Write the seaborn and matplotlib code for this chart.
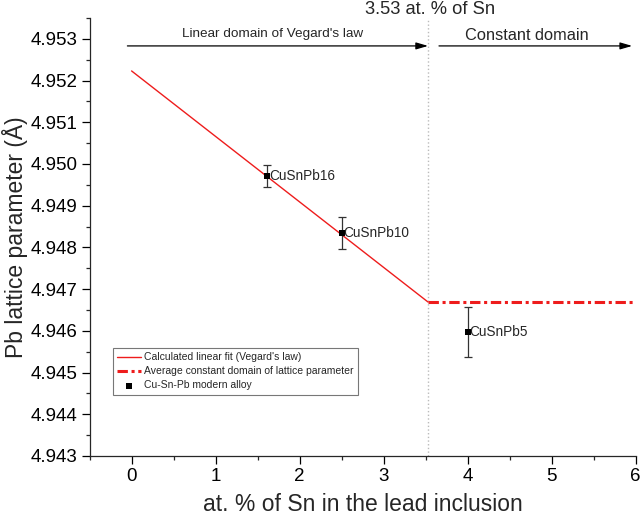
import matplotlib
matplotlib.use("Agg")
import matplotlib.pyplot as plt
import matplotlib.ticker as mticker
import seaborn as sns
import pandas as pd

# Vegard's law fit and constant domain
fit_x = [0.0, 3.53]
fit_y = [4.95223, 4.94669]
const_x = [3.53, 6.0]
const_y = [4.94669, 4.94669]

# measured alloys
alloy_names = ["CuSnPb16", "CuSnPb10", "CuSnPb5"]
alloy_sn = [1.61, 2.50, 4.00]
alloy_a = [4.94971, 4.94834, 4.94598]
alloy_err = [0.00026, 0.00038, 0.00060]

sn_limit = 3.53

sns.set_theme(style="ticks")
plt.rcParams["font.family"] = ["Liberation Sans", "DejaVu Sans"]
plt.rcParams["axes.linewidth"] = 0.9

df_alloy = pd.DataFrame({"sn": alloy_sn, "a": alloy_a, "err": alloy_err, "name": alloy_names})
df_fit = pd.DataFrame({"sn": fit_x, "a": fit_y})
df_const = pd.DataFrame({"sn": const_x, "a": const_y})

fig = plt.figure(figsize=(6.4, 5.21), dpi=100)
ax = fig.add_axes([0.140, 0.1248, 0.853, 0.8407])

red = "#ee1c1c"
sns.lineplot(data=df_fit, x="sn", y="a", ax=ax, color=red, lw=1.0,
             label="Calculated linear fit (Vegard's law)")
sns.lineplot(data=df_const, x="sn", y="a", ax=ax, color=red, lw=2.2,
             linestyle=(0, (3.4, 1.2, 1.0, 1.2)),
             label="Average constant domain of lattice parameter")
ax.errorbar(df_alloy["sn"], df_alloy["a"], yerr=df_alloy["err"], fmt="none",
            ecolor="#333333", elinewidth=0.9, capsize=3, capthick=0.9, zorder=3)
sns.scatterplot(data=df_alloy, x="sn", y="a", ax=ax, marker="s", color="black",
                s=16, linewidth=0, zorder=4, label="Cu-Sn-Pb modern alloy")

for _, row in df_alloy.iterrows():
    ax.annotate(row["name"], xy=(row["sn"], row["a"]), xytext=(1.5, 0),
                textcoords="offset points", ha="left", va="center", fontsize=9.8)

# limit of linear domain
ax.axvline(sn_limit, color="#bbbbbb", ls=":", lw=1.0, zorder=1)

arrow_y = 4.95283
arrow_kw = dict(arrowstyle="-|>,head_length=0.55,head_width=0.16", color="black",
                lw=0.9, mutation_scale=13, shrinkA=0, shrinkB=0)
ax.annotate("", xy=(sn_limit, arrow_y), xytext=(-0.05, arrow_y), arrowprops=arrow_kw)
ax.annotate("", xy=(5.96, arrow_y), xytext=(3.66, arrow_y), arrowprops=arrow_kw)
ax.text(1.68, 4.95311, "Linear domain of Vegard's law", ha="center", va="center", fontsize=9.7)
ax.text(4.71, 4.95307, "Constant domain", ha="center", va="center", fontsize=11.8)
ax.text(3.55, 4.95371, "3.53 at. % of Sn", ha="center", va="center", fontsize=13.2, clip_on=False)

ax.set_xlim(-0.5, 6)
ax.set_ylim(4.943, 4.9535)
ax.xaxis.set_major_locator(mticker.MultipleLocator(1))
ax.xaxis.set_minor_locator(mticker.MultipleLocator(0.5))
ax.yaxis.set_major_locator(mticker.MultipleLocator(0.001))
ax.yaxis.set_minor_locator(mticker.MultipleLocator(0.0005))
ax.yaxis.set_major_formatter(mticker.FormatStrFormatter("%.3f"))
ax.tick_params(which="major", length=5.5, width=0.9, labelsize=13.5, pad=3, colors="black")
ax.tick_params(which="minor", length=3, width=0.9)
for side in ["top", "right"]:
    ax.spines[side].set_visible(False)

ax.set_xlabel("at. % of Sn in the lead inclusion", fontsize=16.5, labelpad=6)
ax.set_ylabel("Pb lattice parameter (Å)", fontsize=16.5, labelpad=2)

leg = ax.legend(loc="upper left", bbox_to_anchor=(113 / 640, 1 - 348 / 521),
                bbox_transform=fig.transFigure, borderaxespad=0, fontsize=7.5,
                frameon=True, fancybox=False, edgecolor="#777777", framealpha=1,
                borderpad=0.4, handlelength=2.3, handletextpad=0.3, labelspacing=0.4)
leg.get_frame().set_linewidth(0.8)

fig.savefig("out.png", dpi=100)
